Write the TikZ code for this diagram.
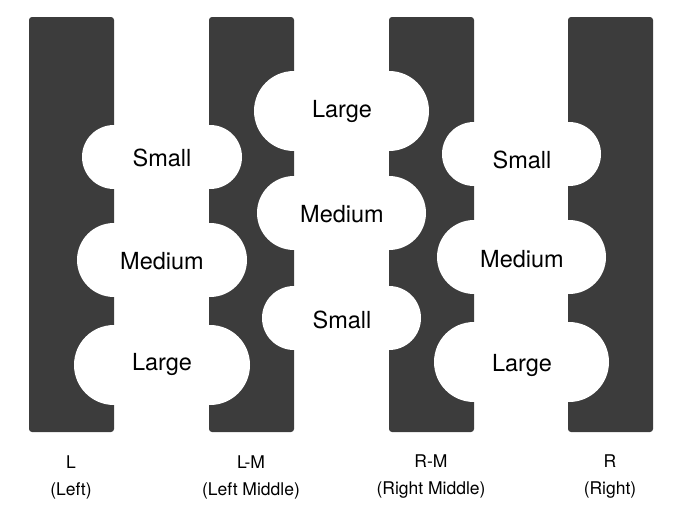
\documentclass[tikz,border=0pt]{standalone}
\usepackage{fontspec}
\setmainfont{TeX Gyre Heros}
\definecolor{strip}{HTML}{3C3C3C}
\begin{document}
\begin{tikzpicture}[x=1pt,y=-1pt,
  stripbox/.style={fill=strip,rounded corners=3pt},
  hole/.style={fill=white},
  lbl/.style={font=\fontsize{23.5}{26}\selectfont,inner sep=0pt},
  captext/.style={font=\fontsize{17.5}{27}\selectfont,align=center,inner sep=0pt}]
\useasboundingbox (0,0) rectangle (700,530);
% strips
\foreach \x in {29,209,389,568}
  \fill[stripbox] (\x,17) rectangle (\x+85,432);
\foreach \y/\r in {157/32,260/37,365/40}{
  \fill[hole] (114,\y) circle (\r);
  \fill[hole] (210,\y) circle (\r);
  \fill[hole] (474,\y-3) circle (\r);
  \fill[hole] (569,\y-3) circle (\r);}
\foreach \y/\r in {111/40,213/37,318/32}{
  \fill[hole] (294,\y) circle (\r);
  \fill[hole] (389,\y) circle (\r);}
\node[lbl] (s1) at (162,158) {Small};
\node[lbl] (m1) at (162,261) {Medium};
\node[lbl] (l1) at (162,364) {Large};
\node[lbl] (l2) at (342,111) {Large};
\node[lbl] (m2) at (342,214) {Medium};
\node[lbl] (s2) at (342,320) {Small};
\node[lbl] (s3) at (522,160) {Small};
\node[lbl] (m3) at (522,259) {Medium};
\node[lbl] (l3) at (522,365) {Large};
\node[captext] (c1) at (71,477) {L\\(Left)};
\node[captext] (c2) at (251,477) {L-M\\(Left Middle)};
\node[captext] (c3) at (431,477) {R-M\\(Right Middle)};
\node[captext] (c4) at (610,477) {R\\(Right)};
\end{tikzpicture}
\end{document}
